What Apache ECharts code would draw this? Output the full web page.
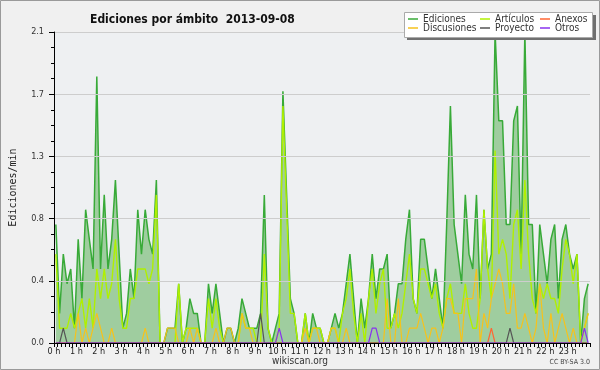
<!DOCTYPE html>
<html><head><meta charset="utf-8">
<script src="https://cdn.jsdelivr.net/npm/echarts@6/dist/echarts.min.js"></script>
<style>html,body{margin:0;padding:0;background:#f0f0f0}#c{width:600px;height:370px}</style>
</head><body><div id="c"></div><script>
// 10-minute bins, 144 per day (values in edits/min)
const xTickLabels = ['0 h','1 h','2 h','3 h','4 h','5 h','6 h','7 h','8 h','9 h','10 h','11 h',
  '12 h','13 h','14 h','15 h','16 h','17 h','18 h','19 h','20 h','21 h','22 h','23 h'];

const ediciones = [
 0.8,0.2,0.6,0.4,0.5,0.1,0.7,0.3,0.9,0.7,0.5,1.8,
 0.5,1.0,0.5,0.7,1.1,0.6,0.1,0.2,0.5,0.3,0.9,0.6,
 0.9,0.7,0.6,1.1,0,0,0.1,0.1,0.1,0.4,0,0.1,
 0.3,0.2,0.2,0,0,0.4,0.2,0.4,0.2,0,0.1,0.1,
 0,0.1,0.3,0.2,0.1,0.1,0.1,0.2,1.0,0.1,0,0.1,
 0.2,1.7,1.0,0.3,0.2,0,0,0.2,0,0.2,0.1,0.1,
 0,0,0.1,0.2,0.1,0.2,0.4,0.6,0.3,0,0.3,0.1,
 0.3,0.6,0.3,0.5,0.5,0.6,0.1,0.2,0.4,0.4,0.7,0.9,
 0.3,0.2,0.7,0.7,0.5,0.3,0.5,0.3,0.1,0.8,1.6,0.8,
 0.6,0.4,1.0,0.6,0.5,1.0,0.3,0.9,0.5,0.6,2.1,1.5,
 1.5,0.8,0.8,1.5,1.6,0.6,2.1,0.8,0.8,0.2,0.8,0.6,
 0.4,0.7,0.8,0.3,0.7,0.8,0.6,0.5,0.6,0,0.3,0.4];

const articulos = [
 0.6,0.1,0.1,0.1,0.2,0.1,0.2,0.3,0.1,0.3,0.1,0.5,
 0.3,0.5,0.3,0.4,0.7,0.3,0.1,0.1,0.3,0.3,0.5,0.5,
 0.5,0.4,0.5,1.0,0,0,0,0,0,0.4,0,0.1,
 0.1,0.1,0.1,0,0,0.3,0.1,0.3,0.1,0,0,0,
 0,0,0.2,0.1,0.1,0.1,0,0,0.6,0.1,0,0,
 0.1,1.6,0.9,0.2,0.2,0,0,0.2,0,0.1,0.1,0.1,
 0,0,0.1,0.1,0,0.2,0.3,0.5,0.2,0,0.2,0,
 0.3,0.5,0.2,0.4,0.5,0.1,0.1,0.2,0.1,0.2,0.4,0.6,
 0.3,0.2,0.5,0.5,0.4,0.3,0.4,0.2,0.1,0.3,0.4,0.2,
 0.2,0.2,0.4,0.2,0.1,0.1,0.3,0.9,0.5,0.3,1.3,0.6,
 0.7,0.6,0.3,0.8,0.9,0.5,1.1,0.6,0.3,0.2,0.4,0.3,
 0.4,0.3,0.3,0.2,0.5,0.7,0.6,0.4,0.6,0,0.1,0.2];

const discusiones = [
 0,0,0,0,0,0,0.2,0,0.1,0,0.1,0.2,
 0.1,0,0,0.1,0,0,0,0,0,0,0,0,
 0.1,0,0,0,0,0,0.1,0.1,0.1,0,0,0,
 0.1,0,0.1,0,0,0,0,0.1,0,0,0.1,0.1,
 0,0,0.2,0.1,0.1,0,0,0,0,0,0,0,
 0,0,0,0,0,0,0,0.1,0,0.1,0.1,0,
 0,0,0.1,0.1,0,0,0.1,0,0,0,0,0,
 0,0,0,0,0,0.3,0,0,0.3,0,0,0.1,
 0.1,0.1,0.2,0.1,0,0.1,0.1,0,0.1,0.3,0.3,0.2,
 0.2,0,0.3,0.3,0.3,0.5,0,0.2,0.1,0.3,0.4,0.5,
 0.4,0.2,0.2,0.4,0.1,0.1,0.2,0.1,0,0.1,0.4,0.1,
 0,0.2,0,0.1,0.2,0.1,0,0.1,0,0,0.1,0.2];

const anexos = [
 0,0,0,0,0,0,0,0,0,0,0,0, 0,0,0,0,0,0,0,0,0,0,0,0,
 0,0,0,0,0,0,0,0,0,0,0,0, 0,0,0,0,0,0,0,0,0,0,0,0,
 0,0,0,0,0,0,0,0,0,0,0,0, 0,0,0,0,0,0,0,0,0,0,0,0,
 0,0,0,0,0,0,0,0,0,0,0,0, 0,0,0,0,0,0,0,0,0,0,0,0,
 0,0,0,0,0,0,0,0,0,0,0,0, 0,0,0,0,0,0,0,0,0,0.1,0,0,
 0,0,0,0,0,0,0,0,0,0,0,0, 0,0,0,0,0,0,0,0,0,0,0,0];

const proyecto = [
 0,0,0.1,0,0,0,0,0,0,0,0,0, 0,0,0,0,0,0,0,0,0,0,0,0,
 0,0,0,0,0,0,0,0,0,0,0,0, 0,0,0,0,0,0,0,0,0,0,0,0,
 0,0,0,0,0,0,0,0.2,0,0,0,0, 0,0,0,0,0,0,0,0,0,0,0,0,
 0,0,0,0,0,0,0,0,0,0,0,0, 0,0,0,0,0,0,0,0,0,0,0,0,
 0,0,0,0,0,0,0,0,0,0,0,0, 0,0,0,0,0,0,0,0,0,0,0,0,
 0,0,0.1,0,0,0,0,0,0,0,0,0, 0,0,0,0,0,0,0,0,0,0,0,0];

const otros = [
 0,0,0,0,0,0,0,0,0,0,0,0, 0,0,0,0,0,0,0,0,0,0,0,0,
 0,0,0,0,0,0,0,0,0,0,0,0, 0,0,0,0,0,0,0,0,0,0,0,0,
 0,0,0,0,0,0,0,0,0,0,0,0, 0.1,0,0,0,0,0,0,0,0,0,0,0,
 0,0,0,0,0,0,0,0,0,0,0,0, 0,0.1,0.1,0,0,0,0,0,0,0,0,0,
 0,0,0,0,0,0,0,0,0,0,0,0, 0,0,0,0,0,0,0,0,0,0,0,0,
 0,0,0,0,0,0,0,0,0,0,0,0, 0,0,0,0,0,0,0,0,0,0,0.1,0];

const seriesDefs = [
  {name:'Ediciones', data:ediciones, color:'#38aa38', width:1.5, area:'#9fcd9f'},
  {name:'Artículos', data:articulos, color:'#b0f000', width:1.4},
  {name:'Discusiones', data:discusiones, color:'#f6c21c', width:1.2},
  {name:'Anexos', data:anexos, color:'#ff6633', width:1.2},
  {name:'Proyecto', data:proyecto, color:'#555555', width:1.2},
  {name:'Otros', data:otros, color:'#8833ee', width:1.2}
];

const FONT = 'DejaVu Sans Condensed, DejaVu Sans, sans-serif';
const legendPos = [
  ['Ediciones',408,14],['Artículos',480,14],['Anexos',540,14],
  ['Discusiones',408,23],['Proyecto',480,23],['Otros',540,23]
];

const chart = echarts.init(document.getElementById('c'), null, {renderer:'canvas'});
chart.setOption({
  backgroundColor:'#f0f0f0',
  animation:false,
  title:{text:'Ediciones por ámbito  2013-09-08', left:85, top:9,
    textStyle:{fontFamily:FONT, fontSize:12, fontWeight:'bold', color:'#111'}},
  legend: legendPos.map(([n,l,t]) => ({
    data:[n], left:l, top:t, z:20, padding:0, itemGap:0,
    icon:'rect', itemWidth:10, itemHeight:1.5, selectedMode:false,
    textStyle:{fontFamily:FONT, fontSize:10, color:'#333'}
  })),
  grid:{left:46, right:10, top:32, bottom:27, show:true, backgroundColor:'#eef0f2', borderWidth:0},
  xAxis:{type:'value', min:0, max:144, interval:6, z:10,
    axisLine:{lineStyle:{color:'#000', width:1}},
    axisTick:{length:4, lineStyle:{color:'#000'}},
    minorTick:{show:true, splitNumber:6, length:4, lineStyle:{color:'#000'}},
    splitLine:{show:false},
    axisLabel:{margin:4, fontFamily:FONT, fontSize:9, color:'#222',
      formatter:v => (xTickLabels[v/6] !== undefined ? xTickLabels[v/6] : '')}
  },
  yAxis:{type:'value', min:0, max:2.1, interval:0.42, z:10,
    name:'Ediciones/min', nameLocation:'middle', nameGap:36, nameRotate:90,
    nameTextStyle:{fontFamily:'DejaVu Sans Mono, monospace', fontSize:10, color:'#222'},
    axisLine:{show:true, lineStyle:{color:'#000', width:1}},
    axisTick:{show:true, length:5, lineStyle:{color:'#000'}},
    minorTick:{show:true, splitNumber:4, length:3, lineStyle:{color:'#000'}},
    splitLine:{show:true, lineStyle:{color:'#cdcdcd', width:1}},
    axisLabel:{margin:10, fontFamily:FONT, fontSize:9, color:'#333',
      formatter:v => v.toFixed(1)}
  },
  graphic:[
    {type:'rect', z:15, shape:{x:407, y:15, width:189, height:25}, style:{fill:'#707070'}},
    {type:'rect', z:16, shape:{x:404.5, y:12.5, width:188, height:25}, style:{fill:'#ffffff', stroke:'#aaaaaa', lineWidth:1}},
    {type:'text', z:16, x:300, y:361, style:{text:'wikiscan.org', fontFamily:FONT, fontSize:10, fill:'#333', textAlign:'center', textVerticalAlign:'middle'}},
    {type:'text', z:16, x:590, y:362, style:{text:'CC BY-SA 3.0', fontFamily:FONT, fontSize:7, fill:'#444', textAlign:'right', textVerticalAlign:'middle'}},
    {type:'rect', z:16, shape:{x:0.5, y:0.5, width:599, height:369}, style:{fill:'none', stroke:'#9a9a9a', lineWidth:1}}
  ],
  series: seriesDefs.map(s => ({
    name:s.name, type:'line', showSymbol:false, symbol:'none', z:2,
    data:s.data.map((v,i) => [i+0.5, v]),
    lineStyle:{color:s.color, width:s.width},
    itemStyle:{color:s.color},
    areaStyle: s.area ? {color:s.area, opacity:1} : undefined
  }))
});
</script></body></html>
